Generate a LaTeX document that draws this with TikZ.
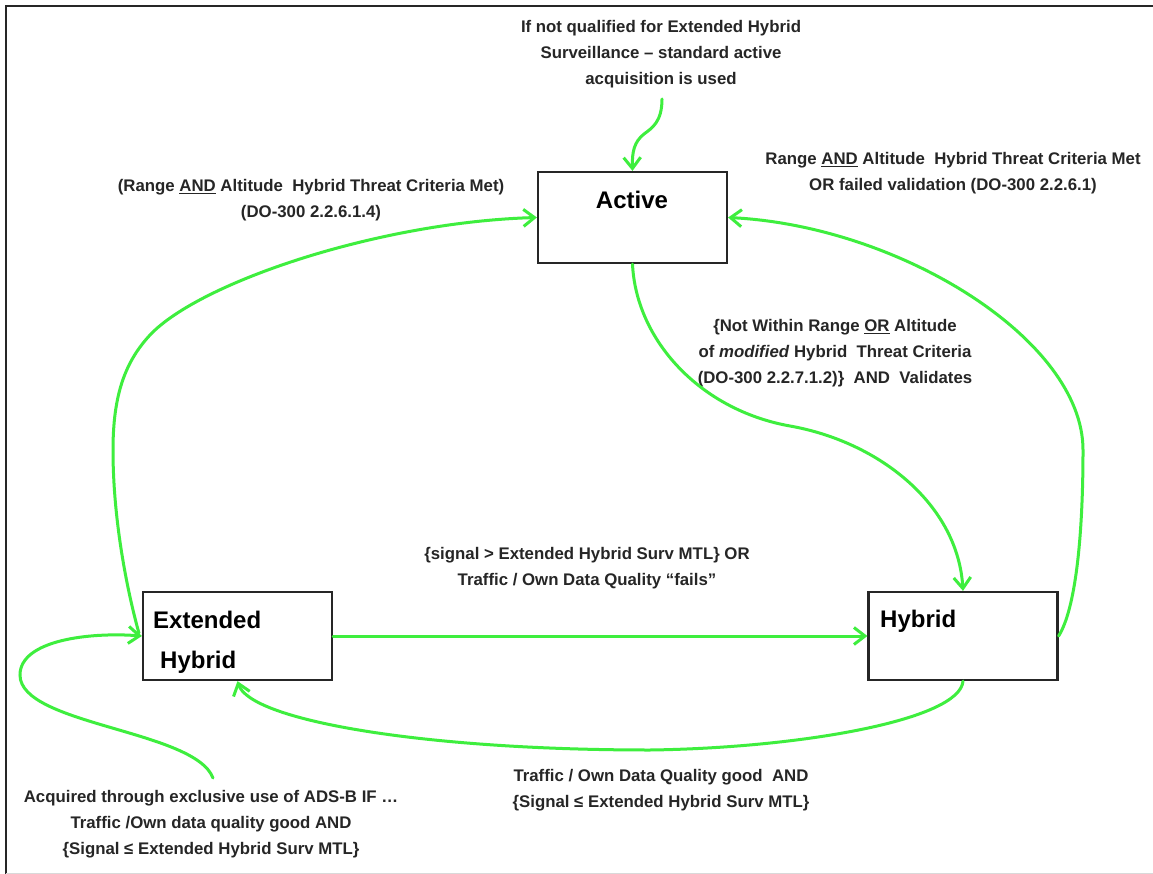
\documentclass[tikz,border=0pt]{standalone}
\usepackage{fontspec}
\setmainfont{Liberation Sans}
\usetikzlibrary{arrows.meta,calc}
\definecolor{flow}{RGB}{62,238,62}
\definecolor{ink}{RGB}{38,38,38}
\begin{document}
\begin{tikzpicture}[x=1pt,y=-1pt,
  state/.style={draw=ink,line width=2.2pt,minimum width=189pt,minimum height=88pt,inner sep=0pt},
  statetxt/.style={font=\fontsize{24}{28}\selectfont\bfseries,text=black,inner sep=0pt},
  cond/.style={font=\fontsize{16.8}{26}\selectfont\bfseries,text=ink,align=center,inner sep=0pt},
  flowline/.style={draw=flow,line width=3pt,line cap=round,
    -{Straight Barb[length=11pt,width=17pt,line width=3pt]}}]
\useasboundingbox (0,0) rectangle (1153,874);
\fill[white] (0,0) rectangle (1153,874);

% frame
\draw[line width=2.6pt,black!85] (6,874) -- (6,6) -- (1153,6);
\draw[line width=1pt,black!15] (6,873) -- (1153,873);

% states
\node[state,minimum height=91pt] (active) at (632.5,217.5) {};
\node[state] (ext) at (237.5,636) {};
\node[state] (hyb) at (963,636) {};

\node[statetxt,anchor=base] (activet) at (632,209) {Active};
\node[statetxt,anchor=base west] (extt1) at (153,628) {Extended};
\node[statetxt,anchor=base west] (extt2) at (160,668) {Hybrid};
\node[statetxt,anchor=base west] (hybt) at (880,627) {Hybrid};

% conditions
\node[cond] (note) at (661,54) {If not qualified for Extended Hybrid\\Surveillance -- standard active\\acquisition is used};
\node[cond] (cleft) at (311,200) {(Range \underline{AND} Altitude\ \ Hybrid Threat Criteria Met)\\(DO-300 2.2.6.1.4)};
\node[cond] (cright) at (953,173) {Range \underline{AND} Altitude\ \ Hybrid\ Threat Criteria Met\\OR failed validation (DO-300 2.2.6.1)};
\node[cond] (cmid) at (835,353) {\{Not Within Range \underline{OR} Altitude\\of \textit{modified} Hybrid\ \ Threat Criteria\\(DO-300 2.2.7.1.2)\}\ \ AND\ \ Validates};
\node[cond] (cfail) at (587,568) {\{signal > Extended Hybrid Surv MTL\} OR\\Traffic / Own Data Quality “fails”};
\node[cond] (cgood) at (661,790) {Traffic / Own Data Quality good\ \ AND\\\{Signal ≤ Extended Hybrid Surv MTL\}};
\node[cond] (cacq) at (211,824) {Acquired through exclusive use of ADS-B IF \dots\\Traffic /Own data quality good AND\\\{Signal ≤ Extended Hybrid Surv MTL\}};

% connectors
\coordinate (ns) at (662,99);
\coordinate (ls) at (213,778);

\draw[flowline] (ns) .. controls (662,122) and (652,128) .. (644,134)
  .. controls (634,142) and (632,152) .. (active.north);

\draw[flowline] ($(ext.west)+(-3,-3)$) .. controls (127,590) and (113,520) .. (113,450)
  .. controls (113,395) and (125,362) .. (150,335)
  .. controls (200,282) and (380,222) .. (active.west);

\draw[flowline] (hyb.east) .. controls (1075,610) and (1083,540) .. (1083,450)
  .. controls (1083,340) and (900,226) .. (active.east);

\draw[flowline] (active.south) .. controls (636,340) and (700,410) .. (790,426)
  .. controls (880,442) and (958,505) .. (hyb.north);

\draw[flowline] (ext.east) -- (hyb.west);

\draw[flowline] (hyb.south) .. controls (960,720) and (800,748) .. (650,750)
  .. controls (420,750) and (250,720) .. (ext.south);

\draw[flowline] (ls) .. controls (195,730) and (20,725) .. (20,675)
  .. controls (20,640) and (90,632) .. (ext.west);
\end{tikzpicture}
\end{document}
